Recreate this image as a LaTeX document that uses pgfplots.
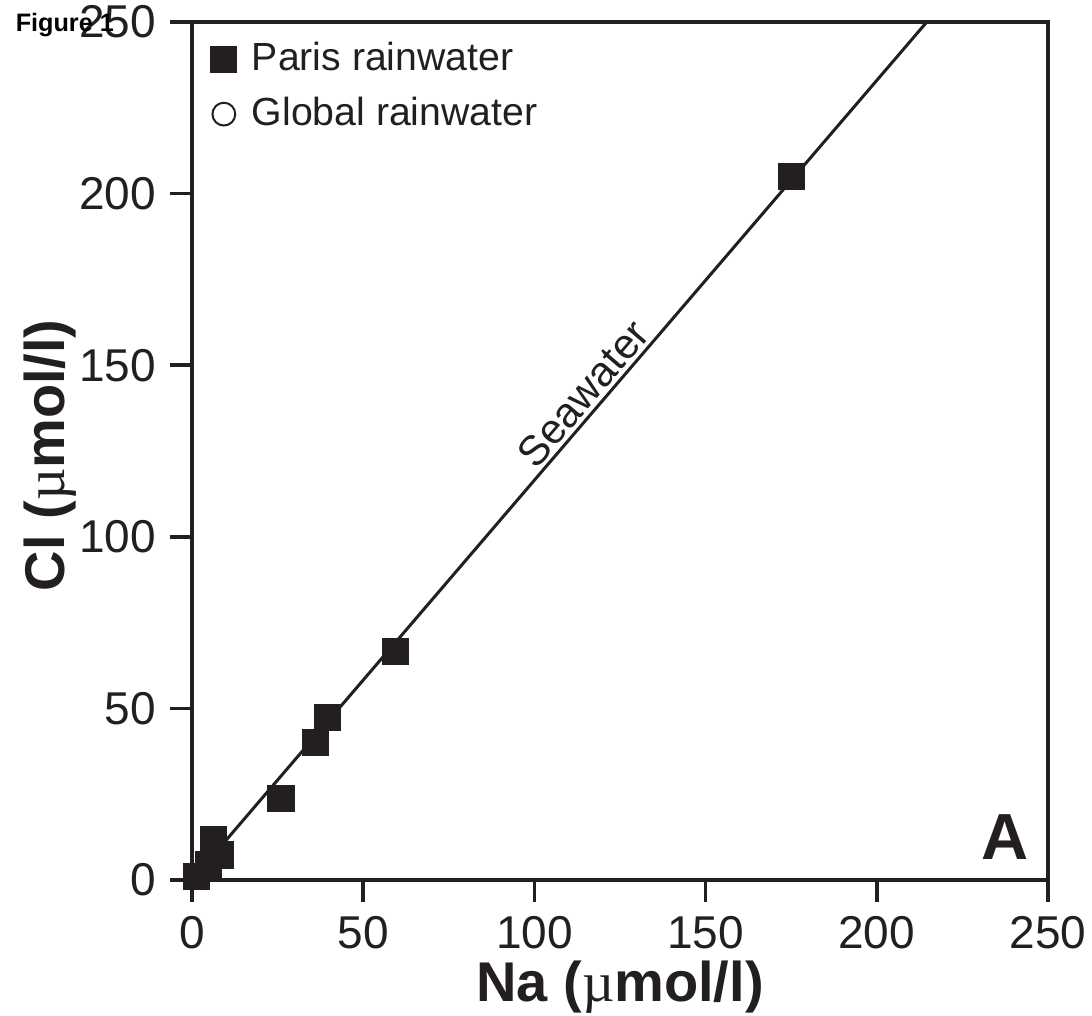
\documentclass[border=0pt]{standalone}
\usepackage{pgfplots}
\pgfplotsset{compat=1.18}
\usepackage{fontspec}
\setmainfont{Liberation Sans}
\newfontfamily\serifmu{Liberation Serif}
\definecolor{ink}{RGB}{35,31,32}
\begin{document}
\begin{tikzpicture}
\begin{axis}[name=ax,
 width=214pt, height=214.5pt, scale only axis,
 xmin=0, xmax=250, ymin=0, ymax=250,
 xtick={0,50,...,250}, ytick={0,50,...,250},
 tick align=outside, tick pos=left,
 major tick length=5.5pt,
 axis line style={line width=1pt, draw=ink},
 tick style={line width=0.9pt, draw=ink},
 every tick label/.append style={font=\fontsize{11.5}{13}\selectfont, text=ink},
 /pgf/number format/assume math mode=true,
 xlabel={Na ({\serifmu\mdseries µ}mol/l)},
 ylabel={Cl ({\serifmu\mdseries µ}mol/l)},
 label style={font=\fontsize{14}{16}\selectfont\bfseries, text=ink},
 x label style={at={(axis description cs:0.5,-0.1417)}, anchor=base},
 y label style={at={(axis description cs:-0.1484,0.495)}, anchor=base},
 clip=false,
 legend style={at={(axis description cs:0.019,0.977)}, anchor=north west, draw=none, fill=none,
   font=\fontsize{9.8}{11}\selectfont, text=ink, inner sep=0pt, row sep=5pt,
   nodes={inner sep=0pt}},
 legend cell align=left,
 legend image code/.code={\path (0pt,-3.4pt) (10.3pt,3.4pt); \draw[#1] plot coordinates {(3.5pt,0pt)};},
]
\addplot[ink, line width=0.75pt, forget plot] coordinates {(0,0) (214.6,250)};
\addplot[only marks, mark=square*, mark size=3.2pt, draw=ink, fill=ink, mark options={line width=0.4pt, draw=ink, fill=ink}]
 coordinates {(175,205) (59.4,66.5) (39.5,47.3) (36.1,40) (26,23.8) (6.2,11.7) (8.2,7.3) (4.8,4.4) (1.4,1.0)};
\addlegendentry{Paris rainwater}
\addlegendimage{only marks, mark=o, mark size=2.85pt, mark options={line width=0.5pt, draw=ink}}
\addlegendentry{Global rainwater}
\node[rotate=49.4, font=\fontsize{10.5}{12}\selectfont, text=ink, inner sep=0pt] at (axis cs:114.2,141.8) {Seawater};
\node[anchor=base, font=\fontsize{16.3}{18}\selectfont\bfseries, text=ink, inner sep=0pt] at (axis cs:237.4,5.83) {A};
\end{axis}
\node[anchor=base west, font=\fontsize{6.3}{7}\selectfont\bfseries, text=black, inner sep=0pt] at ([shift={(-44.25pt,-2.4pt)}]ax.north west) {Figure 1};
\pgfresetboundingbox
\path ([shift={(-48pt,-34pt)}]ax.south west) rectangle ([shift={(11pt,5.5pt)}]ax.north east);
\end{tikzpicture}
\end{document}
